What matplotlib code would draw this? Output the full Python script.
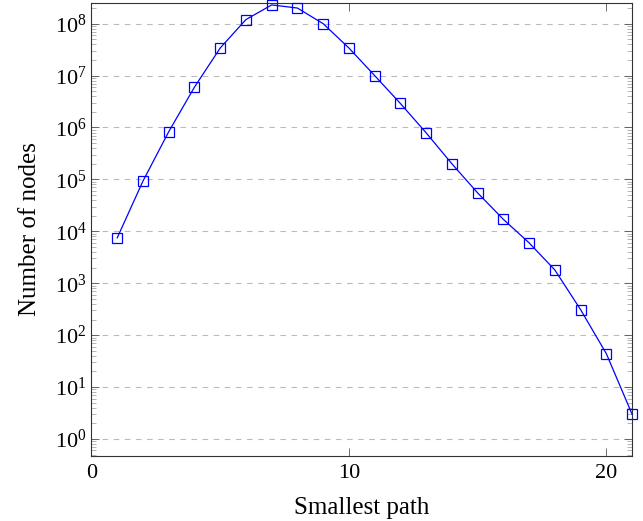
import numpy as np
import matplotlib
matplotlib.use("Agg")
import matplotlib.pyplot as plt
from matplotlib.ticker import LogLocator, FixedLocator

plt.rcParams["font.family"] = ["Liberation Serif", "DejaVu Serif"]
plt.rcParams["mathtext.fontset"] = "custom"
plt.rcParams["mathtext.rm"] = "Liberation Serif"
plt.rcParams["mathtext.it"] = "Liberation Serif:italic"

# path length vs. node count
path_len = [1, 2, 3, 4, 5, 6, 7, 8, 9, 10, 11, 12, 13, 14, 15, 16, 17, 18, 19, 20, 21]
n_nodes = [7.5e3, 9.3e4, 8.3e5, 6.0e6, 3.4e7, 1.2e8, 2.3e8, 2.0e8, 1.0e8, 3.4e7,
           1.0e7, 2.9e6, 7.9e5, 2.0e5, 5.5e4, 1.7e4, 6.0e3, 1.8e3, 3.1e2, 44, 3.0]
x_ticks = [0, 10, 20]
y_ticks = [10.0 ** e for e in range(0, 9)]

fig = plt.figure(figsize=(6.43, 5.21), dpi=100)
ax = fig.add_axes([0.1423, 0.1248, 0.983 - 0.1423, 0.9942 - 0.1248])

BLUE = "#0000ff"
ax.plot(path_len, n_nodes, color=BLUE, lw=0.9, marker="s", ms=7.5,
        mfc="none", mec=BLUE, mew=0.9, clip_on=False, zorder=3)

ax.set_yscale("log")
ax.set_xlim(0, 21)
ax.set_ylim(0.47, 2.5e8)
ax.xaxis.set_major_locator(FixedLocator(x_ticks))
ax.yaxis.set_major_locator(FixedLocator(y_ticks))
ax.yaxis.set_minor_locator(LogLocator(base=10, subs=np.arange(2, 10), numticks=20))
ax.yaxis.set_minor_formatter(matplotlib.ticker.NullFormatter())

ax.grid(axis="y", which="major", color="#bbbbbb", ls=(0, (5, 5)), lw=0.8)
ax.set_axisbelow(True)

ax.tick_params(which="both", direction="in", top=True, right=True,
               labelsize=16, color="#555555")
ax.tick_params(which="major", length=6, width=0.6)
ax.tick_params(which="minor", length=3.5, width=0.5, color="#999999")
ax.tick_params(axis="x", which="minor", top=False, bottom=False)
ax.tick_params(axis="x", pad=6)
for s in ax.spines.values():
    s.set_linewidth(0.8)
    s.set_color("#333333")

ax.set_xlabel("Smallest path", fontsize=18, labelpad=10)
ax.set_ylabel("Number of nodes", fontsize=18, labelpad=10)

fig.savefig("out.png", dpi=100)
